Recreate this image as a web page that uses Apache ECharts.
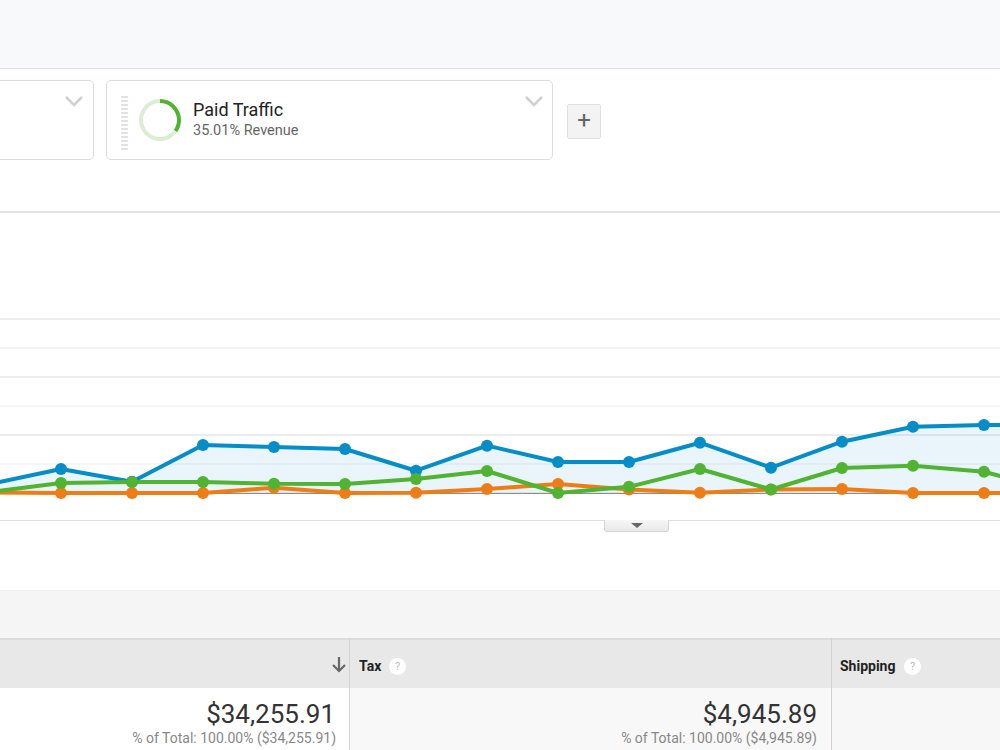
<!DOCTYPE html>
<html>
<head>
<meta charset="utf-8">
<script src="https://cdn.jsdelivr.net/npm/echarts@6/dist/echarts.min.js"></script>
<style>
  body { margin: 0; width: 1000px; height: 750px; overflow: hidden; background: #fff; font-family: Roboto, "Noto Sans", sans-serif; position: relative; }
  .abs { position: absolute; }
  .topbar { left: 0; top: 0; width: 1000px; height: 68px; background: #f8f9fa; border-bottom: 1px solid #e3e3e3; }
  .card { top: 80px; height: 78px; border: 1px solid #dcdcdc; border-radius: 5px; background: #fff; }
  .handle { left: 14px; top: 15px; width: 7px; height: 55px;
    background: repeating-linear-gradient(to bottom, #e2e2e2 0, #e2e2e2 2px, transparent 2px, transparent 4px); }
  .plus { left: 567px; top: 104px; width: 32px; height: 33px; background: #f3f3f3; border: 1px solid #e0e0e0; border-radius: 2px; color: #666; font-size: 24px; line-height: 31px; text-align: center; }
  .hidebtn { left: 604px; top: 520px; width: 63px; height: 11px; background: linear-gradient(#f6f6f6, #e9e9e9); border: 1px solid #d6d6d6; border-top: none; border-radius: 0 0 3px 3px; }
  .tri { left: 26px; top: 3px; width: 0; height: 0; border-left: 6px solid transparent; border-right: 6px solid transparent; border-top: 5px solid #666; }
  .band { left: 0; top: 590px; width: 1000px; height: 48px; background: #f5f5f5; border-top: 1px solid #eeeeee; }
  .thead { left: 0; top: 638px; width: 1000px; height: 49px; background: #e8e8e8; border-top: 2px solid #dcdcdc; border-bottom: 1px solid #d6d6d6; }
  .row { top: 688px; height: 62px; }
  .vline { top: 638px; width: 1px; height: 112px; background: #d2d2d2; }
  .th { font-size: 14px; font-weight: bold; color: #222; top: 658px; }
  .q { width: 17px; height: 17px; border-radius: 50%; background: #fff; color: #bbb; font-size: 11px; line-height: 17px; text-align: center; font-weight: normal; top: 658px; }
  .big { font-size: 26px; color: #333; top: 699px; text-align: right; }
  .small { font-size: 14px; color: #888; top: 730px; text-align: right; }
</style>
</head>
<body>
<div class="abs topbar"></div>

<div class="abs card" style="left:-10px; width:102px;">
  <svg class="abs" style="left:74px; top:14px;" width="18" height="12"><polyline points="1,2 9,10 17,2" fill="none" stroke="#d0d0d0" stroke-width="2.5"/></svg>
</div>
<div class="abs card" style="left:106px; width:445px;">
  <div class="abs handle"></div>
  <div class="abs" style="left:86px; top:18px; font-size:18px; color:#222;">Paid Traffic</div>
  <div class="abs" style="left:86px; top:41px; font-size:14.5px; color:#666;">35.01% Revenue</div>
  <svg class="abs" style="left:418px; top:14px;" width="18" height="12"><polyline points="1,2 9,10 17,2" fill="none" stroke="#d0d0d0" stroke-width="2.5"/></svg>
</div>
<div class="abs plus">+</div>

<div class="abs" style="left:0; top:211px; width:1000px; height:2px; background:#e4e4e4;"></div>
<div class="abs" style="left:0; top:520px; width:1000px; height:1px; background:#dedede;"></div>
<div class="abs hidebtn"><div class="abs tri"></div></div>

<div class="abs band"></div>
<div class="abs thead"></div>
<div class="abs row" style="left:0; width:349px; background:#fff;"></div>
<div class="abs row" style="left:350px; width:481px; background:#f8f8f8;"></div>
<div class="abs row" style="left:832px; width:168px; background:#f7f7f7;"></div>
<div class="abs vline" style="left:349px;"></div>
<div class="abs vline" style="left:831px;"></div>

<svg class="abs" style="left:332px; top:656px;" width="14" height="18"><line x1="7" y1="1" x2="7" y2="15" stroke="#666" stroke-width="2.2"/><polyline points="1,9 7,15 13,9" fill="none" stroke="#666" stroke-width="2.2"/></svg>
<div class="abs th" style="left:359px;">Tax</div>
<div class="abs q" style="left:389px;">?</div>
<div class="abs th" style="left:840px;">Shipping</div>
<div class="abs q" style="left:904px;">?</div>

<div class="abs big" style="right:665px;">$34,255.91</div>
<div class="abs small" style="right:664px;">% of Total: 100.00% ($34,255.91)</div>
<div class="abs big" style="right:183px;">$4,945.89</div>
<div class="abs small" style="right:183px;">% of Total: 100.00% ($4,945.89)</div>

<!-- chart canvas shifted left so the first day sits just off-screen -->
<div id="chart" class="abs" style="left:-10px; top:0; width:1065px; height:750px; pointer-events:none;"></div>

<script>
// daily revenue, three segments
var days = ['Mar 1', 'Mar 2', 'Mar 3', 'Mar 4', 'Mar 5', 'Mar 6', 'Mar 7', 'Mar 8',
  'Mar 9', 'Mar 10', 'Mar 11', 'Mar 12', 'Mar 13', 'Mar 14', 'Mar 15', 'Mar 16'];
var allUsers = [155, 414, 195, 828, 793, 759, 384, 816, 534, 534, 867, 436, 884, 1143, 1172, 1172];
var paidTraffic = [17, 172, 190, 190, 160, 155, 241, 379, 0, 106, 414, 60, 431, 471, 367, 40];
var otherTraffic = [10, 0, 0, 0, 90, 0, 5, 70, 155, 60, 5, 60, 70, 0, 0, 0];

// donut in the segment card
var paidShare = [
  {name: 'Paid Traffic', value: 35.01},
  {name: 'Other', value: 64.99}
];

var chart = echarts.init(document.getElementById('chart'));

function lineSeries(name, data, color, extra) {
  var s = {
    name: name,
    type: 'line',
    data: data,
    symbol: 'circle',
    symbolSize: 12,
    showAllSymbol: true,
    lineStyle: { color: color, width: 4 },
    itemStyle: { color: color },
    emphasis: { disabled: true },
    animation: false
  };
  if (extra) Object.assign(s, extra);
  return s;
}

chart.setOption({
  grid: { left: 0, right: 0, top: 319, height: 174 },
  xAxis: {
    type: 'category',
    data: days,
    boundaryGap: false,
    axisLine: { show: true, lineStyle: { color: '#8c8c8c', width: 1 } },
    axisTick: { show: false },
    axisLabel: { show: false }
  },
  yAxis: {
    type: 'value',
    min: 0,
    max: 3000,
    interval: 500,
    axisLabel: { show: false },
    axisLine: { show: false },
    axisTick: { show: false },
    splitLine: { lineStyle: { color: ['#e6e6e6', '#f2f2f2'], width: 1.5 } }
  },
  series: [
    lineSeries('All Users', allUsers, '#058dc7', {
      areaStyle: { color: 'rgba(5,141,199,0.12)' }
    }),
    lineSeries('Other Traffic', otherTraffic, '#ed7e17'),
    lineSeries('Paid Traffic', paidTraffic, '#50b432'),
    {
      type: 'pie',
      center: [170, 120],
      radius: [17, 21],
      startAngle: 90,
      silent: true,
      animation: false,
      label: { show: false },
      labelLine: { show: false },
      data: paidShare,
      color: ['#50b432', '#d9eed3']
    }
  ]
});
</script>
</body>
</html>
